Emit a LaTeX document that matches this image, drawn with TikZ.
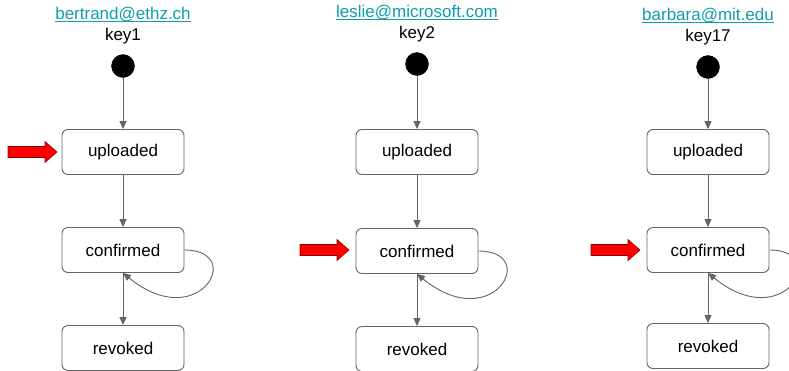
\documentclass[tikz,border=0pt]{standalone}
\usepackage{fontspec}
\setmainfont{Liberation Sans}
\usepackage{tikz}
\usetikzlibrary{arrows.meta}

\definecolor{linkteal}{RGB}{17,157,172}
\definecolor{edgegray}{RGB}{100,100,100}

\newlength\ulinkwd
\newcommand\ulink[1]{\settowidth\ulinkwd{#1}\rlap{\rule[-2.4pt]{\ulinkwd}{0.9pt}}#1}

\tikzset{
  state/.style={draw=edgegray,line width=0.9pt,rounded corners=6pt,fill=white,
    minimum width=122pt,minimum height=45pt,inner sep=0pt,
    font=\fontsize{17}{20}\selectfont},
  start/.style={circle,fill=black,draw=black,minimum size=23pt,inner sep=0pt},
  mail/.style={font=\fontsize{17}{20}\selectfont,text=linkteal,inner sep=0pt},
  keyname/.style={font=\fontsize{17}{20}\selectfont,inner sep=0pt},
  flow/.style={draw=edgegray,line width=0.9pt,-{Triangle[length=8pt,width=7pt]}},
  pointer/.style={fill=red,draw=red!55!black,line width=0.6pt,line join=miter}
}

\begin{document}
\begin{tikzpicture}[x=1pt,y=-1pt]
\useasboundingbox (0,0) rectangle (789,370);

% bertrand
\node [mail] (m1) at (123,15) {\ulink{bertrand@ethz.ch}};
\node [keyname] (k1) at (123,36) {key1};
\node [start] (s1) at (123,66) {};
\node [state] (u1) at (123,152) {uploaded};
\node [state] (c1) at (123,250) {confirmed};
\node [state] (r1) at (123,348) {revoked};
\draw [flow] (s1) -- (u1);
\draw [flow] (u1) -- (c1);
\draw [flow] (c1) -- (r1);
\draw [flow] (c1.east) .. controls +(62,0) and +(76,62) .. (c1.south);
\draw [pointer] (57,152) -- ++(-12,-10.5) -- ++(0,5) -- ++(-37,0) -- ++(0,11) -- ++(37,0) -- ++(0,5) -- cycle;

% leslie
\node [mail] (m2) at (417,13) {\ulink{leslie@microsoft.com}};
\node [keyname] (k2) at (417,34) {key2};
\node [start] (s2) at (417,64) {};
\node [state] (u2) at (417,152) {uploaded};
\node [state] (c2) at (417,251) {confirmed};
\node [state] (r2) at (417,349) {revoked};
\draw [flow] (s2) -- (u2);
\draw [flow] (u2) -- (c2);
\draw [flow] (c2) -- (r2);
\draw [flow] (c2.east) .. controls +(62,0) and +(76,62) .. (c2.south);
\draw [pointer] (349,250) -- ++(-12,-10.5) -- ++(0,5) -- ++(-37,0) -- ++(0,11) -- ++(37,0) -- ++(0,5) -- cycle;

% barbara
\node [mail] (m3) at (708,16) {\ulink{barbara@mit.edu}};
\node [keyname] (k3) at (708,37) {key17};
\node [start] (s3) at (708,67) {};
\node [state] (u3) at (708,152) {uploaded};
\node [state] (c3) at (708,250) {confirmed};
\node [state] (r3) at (708,346) {revoked};
\draw [flow] (s3) -- (u3);
\draw [flow] (u3) -- (c3);
\draw [flow] (c3) -- (r3);
\draw [flow] (c3.east) .. controls +(62,0) and +(76,62) .. (c3.south);
\draw [pointer] (640,250) -- ++(-12,-10.5) -- ++(0,5) -- ++(-37,0) -- ++(0,11) -- ++(37,0) -- ++(0,5) -- cycle;
\end{tikzpicture}
\end{document}
